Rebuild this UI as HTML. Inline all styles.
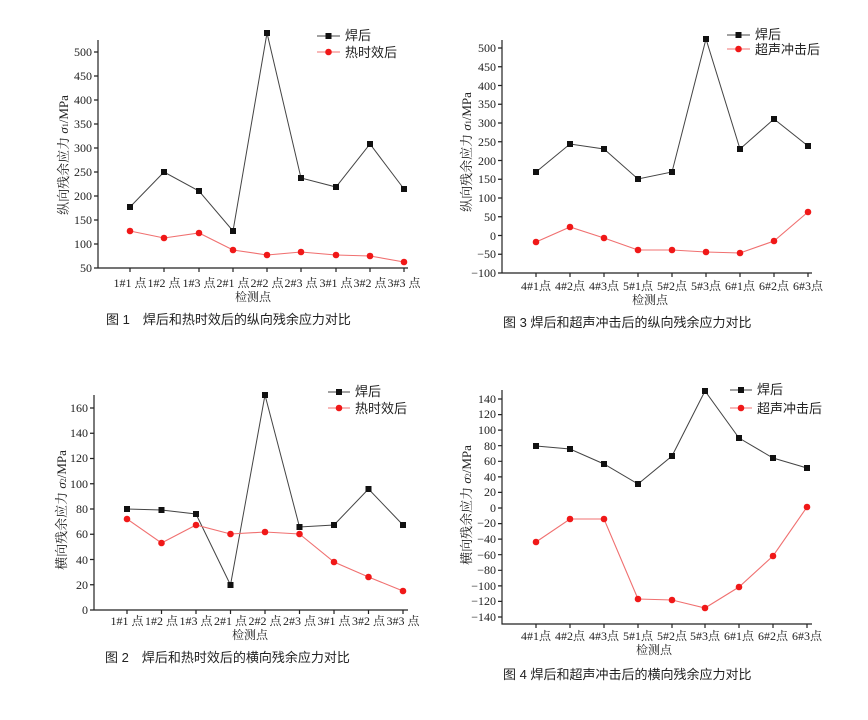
<!DOCTYPE html>
<html><head><meta charset="utf-8"><style>
body{margin:0;background:#fff}
svg{display:block}
.t{font-family:"Liberation Serif","Noto Serif CJK SC",serif;font-size:12px;fill:#222}
.yl{font-size:13px}
.c{font-family:"Liberation Sans","Noto Sans CJK SC",sans-serif;font-size:13px;fill:#222}
.ax{stroke:#222;stroke-width:1.2;fill:none}
.bl{stroke:#444;stroke-width:1;fill:none}
.rd{stroke:#f07070;stroke-width:1.1;fill:none}
</style></head><body>
<svg width="868" height="720" viewBox="0 0 868 720" xmlns="http://www.w3.org/2000/svg">
<!-- Chart 1 -->
<g>
<path class="ax" d="M98,40V268H408M94,268H98M94,244H98M94,220H98M94,196H98M94,172H98M94,148H98M94,124H98M94,100H98M94,76H98M94,52H98M130,268v4M164,268v4M199,268v4M233,268v4M267,268v4M301,268v4M336,268v4M370,268v4M404,268v4"/>
<g class="t" text-anchor="end"><text x="92" y="272">50</text><text x="92" y="248">100</text><text x="92" y="224">150</text><text x="92" y="200">200</text><text x="92" y="176">250</text><text x="92" y="152">300</text><text x="92" y="128">350</text><text x="92" y="104">400</text><text x="92" y="80">450</text><text x="92" y="56">500</text></g>
<g class="t" text-anchor="middle"><text x="130" y="287">1#1 点</text><text x="164" y="287">1#2 点</text><text x="199" y="287">1#3 点</text><text x="233" y="287">2#1 点</text><text x="267" y="287">2#2 点</text><text x="301" y="287">2#3 点</text><text x="336" y="287">3#1 点</text><text x="370" y="287">3#2 点</text><text x="404" y="287">3#3 点</text><text x="253" y="301">检测点</text></g>
<text class="t yl" transform="translate(68,155) rotate(-90)" text-anchor="middle">纵向残余应力 <tspan font-style="italic">σ</tspan><tspan font-size="8">1</tspan>/MPa</text>
<polyline class="bl" points="130,207 164,172 199,191 233,231 267,33 301,178 336,187 370,144 404,189"/>
<polyline class="rd" points="130,231 164,238 199,233 233,250 267,255 301,252 336,255 370,256 404,262"/>
<g fill="#111"><rect x="127" y="204" width="6" height="6"/><rect x="161" y="169" width="6" height="6"/><rect x="196" y="188" width="6" height="6"/><rect x="230" y="228" width="6" height="6"/><rect x="264" y="30" width="6" height="6"/><rect x="298" y="175" width="6" height="6"/><rect x="333" y="184" width="6" height="6"/><rect x="367" y="141" width="6" height="6"/><rect x="401" y="186" width="6" height="6"/></g>
<g fill="#f01818"><circle cx="130" cy="231" r="3.3"/><circle cx="164" cy="238" r="3.3"/><circle cx="199" cy="233" r="3.3"/><circle cx="233" cy="250" r="3.3"/><circle cx="267" cy="255" r="3.3"/><circle cx="301" cy="252" r="3.3"/><circle cx="336" cy="255" r="3.3"/><circle cx="370" cy="256" r="3.3"/><circle cx="404" cy="262" r="3.3"/></g>
<path class="bl" d="M317,36H340"/><rect x="325.5" y="33" width="6" height="6" fill="#111"/><text class="c" x="345" y="40">焊后</text>
<path class="rd" d="M317,52H340"/><circle cx="328.5" cy="52" r="3.3" fill="#f01818"/><text class="c" x="345" y="57">热时效后</text>
<text class="c" x="106" y="324">图 1　焊后和热时效后的纵向残余应力对比</text>
</g>
<!-- Chart 3 -->
<g>
<path class="ax" d="M502,40V273H812M498,273H502M498,254.25H502M498,235.5H502M498,216.75H502M498,198H502M498,179.25H502M498,160.5H502M498,141.75H502M498,123H502M498,104.25H502M498,85.5H502M498,66.75H502M498,48H502M536,273v4M570,273v4M604,273v4M638,273v4M672,273v4M706,273v4M740,273v4M774,273v4M808,273v4"/>
<g class="t" text-anchor="end"><text x="496" y="277">−100</text><text x="496" y="258">−50</text><text x="496" y="240">0</text><text x="496" y="221">50</text><text x="496" y="202">100</text><text x="496" y="183">150</text><text x="496" y="165">200</text><text x="496" y="146">250</text><text x="496" y="127">300</text><text x="496" y="108">350</text><text x="496" y="90">400</text><text x="496" y="71">450</text><text x="496" y="52">500</text></g>
<g class="t" text-anchor="middle"><text x="536" y="290">4#1点</text><text x="570" y="290">4#2点</text><text x="604" y="290">4#3点</text><text x="638" y="290">5#1点</text><text x="672" y="290">5#2点</text><text x="706" y="290">5#3点</text><text x="740" y="290">6#1点</text><text x="774" y="290">6#2点</text><text x="808" y="290">6#3点</text><text x="650" y="304">检测点</text></g>
<text class="t yl" transform="translate(471,152) rotate(-90)" text-anchor="middle">纵向残余应力 <tspan font-style="italic">σ</tspan><tspan font-size="8">1</tspan>/MPa</text>
<polyline class="bl" points="536,172 570,144 604,149 638,179 672,172 706,39 740,149 774,119 808,146"/>
<polyline class="rd" points="536,242 570,227 604,238 638,250 672,250 706,252 740,253 774,241 808,212"/>
<g fill="#111"><rect x="533" y="169" width="6" height="6"/><rect x="567" y="141" width="6" height="6"/><rect x="601" y="146" width="6" height="6"/><rect x="635" y="176" width="6" height="6"/><rect x="669" y="169" width="6" height="6"/><rect x="703" y="36" width="6" height="6"/><rect x="737" y="146" width="6" height="6"/><rect x="771" y="116" width="6" height="6"/><rect x="805" y="143" width="6" height="6"/></g>
<g fill="#f01818"><circle cx="536" cy="242" r="3.3"/><circle cx="570" cy="227" r="3.3"/><circle cx="604" cy="238" r="3.3"/><circle cx="638" cy="250" r="3.3"/><circle cx="672" cy="250" r="3.3"/><circle cx="706" cy="252" r="3.3"/><circle cx="740" cy="253" r="3.3"/><circle cx="774" cy="241" r="3.3"/><circle cx="808" cy="212" r="3.3"/></g>
<path class="bl" d="M727,35H750"/><rect x="735.5" y="32" width="6" height="6" fill="#111"/><text class="c" x="755" y="39">焊后</text>
<path class="rd" d="M727,49H750"/><circle cx="738.5" cy="49" r="3.3" fill="#f01818"/><text class="c" x="755" y="54">超声冲击后</text>
<text class="c" x="503" y="327">图 3  焊后和超声冲击后的纵向残余应力对比</text>
</g>
<!-- Chart 2 -->
<g>
<path class="ax" d="M94,395V610H408M90,610H94M90,584.75H94M90,559.5H94M90,534.25H94M90,509H94M90,483.75H94M90,458.5H94M90,433.25H94M90,408H94M127,610v4M161.5,610v4M196,610v4M230.5,610v4M265,610v4M299.5,610v4M334,610v4M368.5,610v4M403,610v4"/>
<g class="t" text-anchor="end"><text x="88" y="614">0</text><text x="88" y="589">20</text><text x="88" y="564">40</text><text x="88" y="538">60</text><text x="88" y="513">80</text><text x="88" y="488">100</text><text x="88" y="462">120</text><text x="88" y="437">140</text><text x="88" y="412">160</text></g>
<g class="t" text-anchor="middle"><text x="127" y="625">1#1 点</text><text x="161.5" y="625">1#2 点</text><text x="196" y="625">1#3 点</text><text x="230.5" y="625">2#1 点</text><text x="265" y="625">2#2 点</text><text x="299.5" y="625">2#3 点</text><text x="334" y="625">3#1 点</text><text x="368.5" y="625">3#2 点</text><text x="403" y="625">3#3 点</text><text x="250" y="639">检测点</text></g>
<text class="t yl" transform="translate(66,510) rotate(-90)" text-anchor="middle">横向残余应力 <tspan font-style="italic">σ</tspan><tspan font-size="8">2</tspan>/MPa</text>
<polyline class="bl" points="127,509 161.5,510 196,514 230.5,585 265,395 299.5,527 334,525 368.5,489 403,525"/>
<polyline class="rd" points="127,519 161.5,543 196,525 230.5,534 265,532 299.5,534 334,562 368.5,577 403,591"/>
<g fill="#111"><rect x="124" y="506" width="6" height="6"/><rect x="158.5" y="507" width="6" height="6"/><rect x="193" y="511" width="6" height="6"/><rect x="227.5" y="582" width="6" height="6"/><rect x="262" y="392" width="6" height="6"/><rect x="296.5" y="524" width="6" height="6"/><rect x="331" y="522" width="6" height="6"/><rect x="365.5" y="486" width="6" height="6"/><rect x="400" y="522" width="6" height="6"/></g>
<g fill="#f01818"><circle cx="127" cy="519" r="3.3"/><circle cx="161.5" cy="543" r="3.3"/><circle cx="196" cy="525" r="3.3"/><circle cx="230.5" cy="534" r="3.3"/><circle cx="265" cy="532" r="3.3"/><circle cx="299.5" cy="534" r="3.3"/><circle cx="334" cy="562" r="3.3"/><circle cx="368.5" cy="577" r="3.3"/><circle cx="403" cy="591" r="3.3"/></g>
<path class="bl" d="M328,392H350"/><rect x="336" y="389" width="6" height="6" fill="#111"/><text class="c" x="355" y="396">焊后</text>
<path class="rd" d="M328,408H350"/><circle cx="339" cy="408" r="3.3" fill="#f01818"/><text class="c" x="355" y="413">热时效后</text>
<text class="c" x="105" y="662">图 2　焊后和热时效后的横向残余应力对比</text>
</g>
<!-- Chart 4 -->
<g>
<path class="ax" d="M502,390V624H812M498,617H502M498,601.4H502M498,585.9H502M498,570.3H502M498,554.7H502M498,539.1H502M498,523.6H502M498,508H502M498,492.4H502M498,476.9H502M498,461.3H502M498,445.7H502M498,430.1H502M498,414.6H502M498,399H502M536,624v4M570,624v4M604,624v4M638,624v4M672,624v4M705,624v4M739,624v4M773,624v4M807,624v4"/>
<g class="t" text-anchor="end" font-size="11.5"><text x="496" y="621">−140</text><text x="496" y="605">−120</text><text x="496" y="590">−100</text><text x="496" y="574">−80</text><text x="496" y="559">−60</text><text x="496" y="543">−40</text><text x="496" y="527">−20</text><text x="496" y="512">0</text><text x="496" y="496">20</text><text x="496" y="481">40</text><text x="496" y="465">60</text><text x="496" y="450">80</text><text x="496" y="434">100</text><text x="496" y="418">120</text><text x="496" y="403">140</text></g>
<g class="t" text-anchor="middle"><text x="536" y="640">4#1点</text><text x="570" y="640">4#2点</text><text x="604" y="640">4#3点</text><text x="638" y="640">5#1点</text><text x="672" y="640">5#2点</text><text x="705" y="640">5#3点</text><text x="739" y="640">6#1点</text><text x="773" y="640">6#2点</text><text x="807" y="640">6#3点</text><text x="654" y="654">检测点</text></g>
<text class="t yl" transform="translate(471,505) rotate(-90)" text-anchor="middle">横向残余应力 <tspan font-style="italic">σ</tspan><tspan font-size="8">2</tspan>/MPa</text>
<polyline class="bl" points="536,446 570,449 604,464 638,484 672,456 705,391 739,438 773,458 807,468"/>
<polyline class="rd" points="536,542 570,519 604,519 638,599 672,600 705,608 739,587 773,556 807,507"/>
<g fill="#111"><rect x="533" y="443" width="6" height="6"/><rect x="567" y="446" width="6" height="6"/><rect x="601" y="461" width="6" height="6"/><rect x="635" y="481" width="6" height="6"/><rect x="669" y="453" width="6" height="6"/><rect x="702" y="388" width="6" height="6"/><rect x="736" y="435" width="6" height="6"/><rect x="770" y="455" width="6" height="6"/><rect x="804" y="465" width="6" height="6"/></g>
<g fill="#f01818"><circle cx="536" cy="542" r="3.3"/><circle cx="570" cy="519" r="3.3"/><circle cx="604" cy="519" r="3.3"/><circle cx="638" cy="599" r="3.3"/><circle cx="672" cy="600" r="3.3"/><circle cx="705" cy="608" r="3.3"/><circle cx="739" cy="587" r="3.3"/><circle cx="773" cy="556" r="3.3"/><circle cx="807" cy="507" r="3.3"/></g>
<path class="bl" d="M730,390H752"/><rect x="738" y="387" width="6" height="6" fill="#111"/><text class="c" x="757" y="394">焊后</text>
<path class="rd" d="M730,408H752"/><circle cx="741" cy="408" r="3.3" fill="#f01818"/><text class="c" x="757" y="413">超声冲击后</text>
<text class="c" x="503" y="679">图 4  焊后和超声冲击后的横向残余应力对比</text>
</g>
</svg>
</body></html>
